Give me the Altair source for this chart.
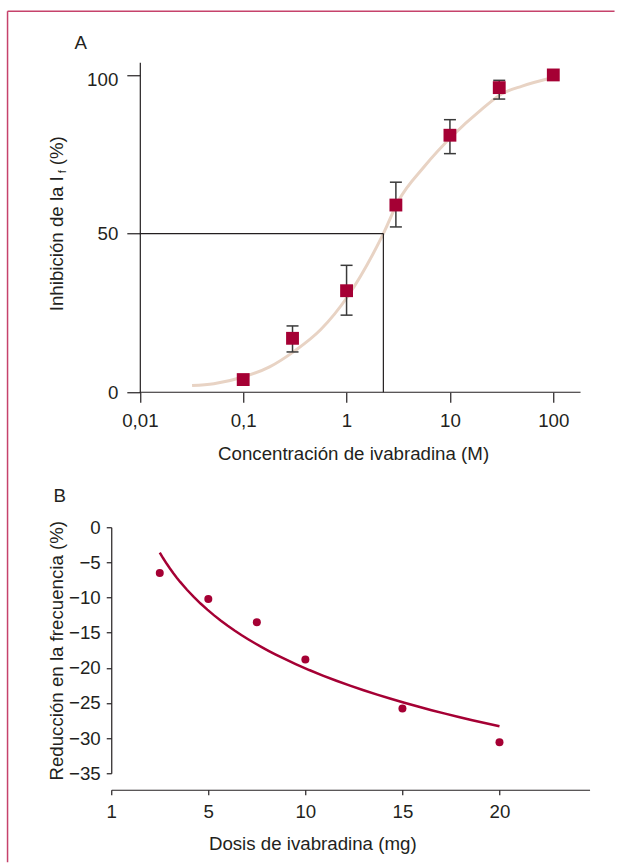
import altair as alt
import pandas as pd

FONT = "Liberation Sans, Arial, sans-serif"
INK = "#231f20"
RED = "#a50034"
BEIGE = "#e8d3c4"
FRAME = "#c6426b"
FS = 18.7

# ---------------- Panel A data ----------------
conc = [0.1, 0.3, 1, 3, 10, 30, 100]
inhib = [4.0, 17.0, 32.0, 59.0, 81.0, 96.0, 100.0]
err_conc = [0.3, 1, 3, 10, 30]
err_low = [12.7, 24.3, 52.1, 75.2, 92.4]
err_high = [20.9, 40.0, 66.2, 85.9, 98.3]
curve_conc = [0.032, 0.052, 0.1, 0.18, 0.32, 0.56, 1.04, 2.27, 3.2, 5.6, 10.7, 20, 31.6, 50, 100]
curve_inhib = [2.1, 2.7, 4.8, 8.0, 13.2, 19.7, 30.5, 50.0, 60.5, 71.0, 81.0, 89.0, 94.0, 96.5, 99.2]
ic50 = 2.27
xa_ticks = [0.01, 0.1, 1, 10, 100]
xa_labels = ["0,01", "0,1", "1", "10", "100"]
ya_ticks = [0, 50, 100]
xa_domain = [0.00529, 183.5]
ya_domain = [0, 104]

# ---------------- Panel B data ----------------
dose = [2.5, 5, 7.5, 10, 15, 20]
reduction = [-6.5, -10.2, -13.5, -18.8, -25.8, -30.6]
xb_ticks = [0, 5, 10, 15, 20]
xb_labels = ["1", "5", "10", "15", "20"]
yb_ticks = [0, -5, -10, -15, -20, -25, -30, -35]
xb_domain = [0, 24.64]
yb_domain = [-35, 0]


def label_expr(vals, labs):
    parts = [f"datum.value == {v} ? '{l}'" for v, l in zip(vals, labs)]
    return " : ".join(parts) + " : datum.label"


one = alt.Data(values=[{}])

# ---------------- Panel A ----------------
xA_scale = alt.Scale(type="log", domain=xa_domain, nice=False)
yA_scale = alt.Scale(domain=ya_domain, nice=False, zero=False)

axXA = alt.Axis(values=xa_ticks, labelExpr=label_expr(xa_ticks, xa_labels), domain=False,
                tickSize=10, labelPadding=9, grid=False, labelFlush=False, labelOverlap=False,
                title="Concentración de ivabradina (M)", titleX=241.8, titleY=67.5,
                titleAlign="center", titleBaseline="alphabetic")
axYA = alt.Axis(values=ya_ticks, offset=-28.56, tickSize=13, labelPadding=9, grid=False,
                labelFlush=False, labelOverlap=False, title=None,
                labelOffset={"condition": {"test": "datum.value == 100", "value": 5}, "value": 0})

XA = alt.X("x:Q", scale=xA_scale, axis=axXA)
YA = alt.Y("y:Q", scale=yA_scale, axis=axYA)

df_curve = pd.DataFrame({"x": curve_conc, "y": curve_inhib})
df_pts = pd.DataFrame({"x": conc, "y": inhib})
df_err = pd.DataFrame({"x": err_conc, "y": err_low, "y2": err_high})
df_caps = pd.DataFrame({"x": err_conc * 2, "y": err_low + err_high})
df_hline = pd.DataFrame({"x": [xa_ticks[0]], "x2": [ic50], "y": [50]})
df_vline = pd.DataFrame({"x": [ic50], "y": [0], "y2": [50]})
df_xdom = pd.DataFrame({"x": [xa_ticks[0]], "x2": [xa_domain[1]], "y": [0]})

curve = alt.Chart(df_curve).mark_line(color=BEIGE, strokeWidth=3, interpolate="monotone").encode(x=XA, y=YA)
hline = alt.Chart(df_hline).mark_rule(color=INK, strokeWidth=1.2).encode(x=XA, x2="x2:Q", y=YA)
vline = alt.Chart(df_vline).mark_rule(color=INK, strokeWidth=1.2).encode(x=XA, y=YA, y2="y2:Q")
xdom = alt.Chart(df_xdom).mark_rule(color=INK, strokeWidth=1.2).encode(x=XA, x2="x2:Q", y=YA)
errs = alt.Chart(df_err).mark_rule(color="#3a3a3a", strokeWidth=1.5).encode(x=XA, y=YA, y2="y2:Q")
caps = alt.Chart(df_caps).mark_rule(color="#3a3a3a", strokeWidth=1.5, xOffset=-6, x2Offset=6).encode(
    x=XA, x2="x:Q", y=YA)
squares = alt.Chart(df_pts).mark_square(size=165, color=RED, opacity=1).encode(x=XA, y=YA)

txtA = alt.Chart(one).mark_text(text="A", align="left", baseline="alphabetic", fontSize=FS,
                                font=FONT, color=INK).encode(x=alt.value(-36.7), y=alt.value(-13))
ytitle1 = alt.Chart(one).mark_text(text="Inhibición de la I", angle=270, align="left", baseline="alphabetic",
                                   fontSize=FS, font=FONT, color=INK).encode(x=alt.value(-48.7), y=alt.value(249))
ytitle2 = alt.Chart(one).mark_text(text="f", angle=270, align="center", baseline="alphabetic",
                                   fontSize=11, font=FONT, color=INK).encode(x=alt.value(-45.5), y=alt.value(109.5))
ytitle3 = alt.Chart(one).mark_text(text="(%)", angle=270, align="left", baseline="alphabetic",
                                   fontSize=FS, font=FONT, color=INK).encode(x=alt.value(-48.7), y=alt.value(103))
frame_top = alt.Chart(one).mark_rule(color=FRAME, strokeWidth=1.5).encode(
    x=alt.value(-103.7), x2=alt.value(503.3), y=alt.value(-51))
frame_left = alt.Chart(one).mark_rule(color=FRAME, strokeWidth=1.5).encode(
    x=alt.value(-103.7), y=alt.value(-51), y2=alt.value(800))

panelA = alt.layer(curve, hline, vline, xdom, errs, caps, squares, txtA,
                   ytitle1, ytitle2, ytitle3, frame_top, frame_left).properties(width=469.3, height=330)

# ---------------- Panel B ----------------
xB_scale = alt.Scale(domain=xb_domain, nice=False, zero=False)
yB_scale = alt.Scale(domain=yb_domain, nice=False, zero=False)
axXB = alt.Axis(values=xb_ticks, labelExpr=label_expr(xb_ticks, xb_labels), offset=16.5,
                tickSize=5, labelPadding=8, grid=False, labelFlush=False, labelOverlap=False,
                title="Dosis de ivabradina (mg)", titleX=201, titleY=60,
                titleAlign="center", titleBaseline="alphabetic")
axYB = alt.Axis(values=yb_ticks, tickSize=5, labelPadding=6, grid=False, labelFlush=False,
                labelOverlap=False, title="Reducción en la frecuencia (%)", titleAngle=270,
                titleX=-48.7, titleY=123, titleAlign="center", titleBaseline="alphabetic")
XB = alt.X("dose:Q", scale=xB_scale, axis=axXB)
YB = alt.Y("red:Q", scale=yB_scale, axis=axYB)

df_b = pd.DataFrame({"dose": dose, "red": reduction})
fitB = alt.Chart(df_b).transform_regression("dose", "red", method="log", extent=[2.5, 20]).mark_line(
    color=RED, strokeWidth=2.5).encode(x=XB, y=YB)
ptsB = alt.Chart(df_b).mark_circle(size=64, color=RED, opacity=1).encode(x=XB, y=YB)
txtB = alt.Chart(one).mark_text(text="B", align="left", baseline="alphabetic", fontSize=FS,
                                font=FONT, color=INK).encode(x=alt.value(-57.7), y=alt.value(-25))

panelB = alt.layer(fitB, ptsB, txtB).properties(width=478.3, height=246)

chart = alt.vconcat(panelA, panelB, spacing=135, bounds="flush").properties(
    padding={"left": 6.25, "top": 10.25, "right": 0, "bottom": 0}
).configure_view(stroke=None).configure_axis(
    labelFont=FONT, labelFontSize=FS, labelColor=INK, titleFont=FONT, titleFontSize=FS,
    titleFontWeight="normal", titleColor=INK, domainColor=INK, domainWidth=1.2,
    tickColor=INK, tickWidth=1.2
)

chart.save("out.html", embed_options={"renderer": "svg", "actions": False})
